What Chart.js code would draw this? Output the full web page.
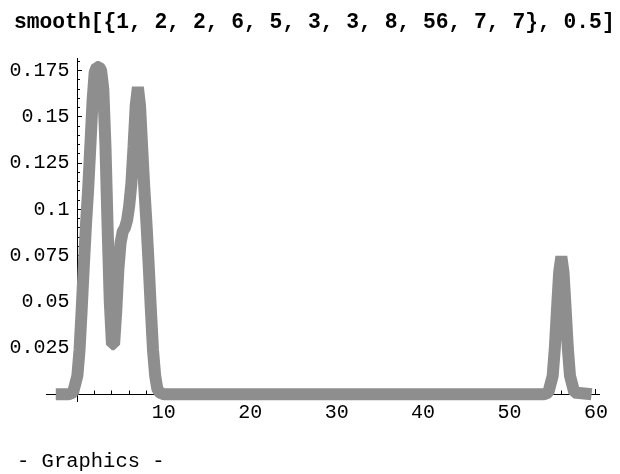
<!DOCTYPE html>
<html>
<head>
<meta charset="utf-8">
<script src="https://cdn.jsdelivr.net/npm/chart.js@4.4.1/dist/chart.umd.min.js"></script>
<style>
  html, body { margin: 0; padding: 0; background: #fff; }
  #wrap { position: relative; width: 620px; height: 474px; overflow: hidden; }
  #chart { position: absolute; left: 0; top: 0; }
  .caption { position: absolute; font-family: "Liberation Mono", "DejaVu Sans Mono", monospace; color: #000; white-space: pre; line-height: 1; }
  #title { left: 14px; top: 12px; font-size: 21.3px; font-weight: bold; }
  #footer { left: 17px; top: 452px; font-size: 20.5px; }
</style>
</head>
<body>
<div id="wrap">
  <canvas id="chart" width="620" height="474"></canvas>
  <div id="title" class="caption">smooth[{1, 2, 2, 6, 5, 3, 3, 8, 56, 7, 7}, 0.5]</div>
  <div id="footer" class="caption">- Graphics -</div>
</div>
<script>
// curve (x position, density)
const xValues = [-2.5, -1, -0.5, 0, 0.25, 0.5, 0.75, 1, 1.25, 1.5, 1.75, 2, 2.25, 2.5, 2.75, 3, 3.25, 3.5, 3.75, 4,
  4.25, 4.5, 4.75, 5, 5.25, 5.5, 5.75, 6, 6.25, 6.5, 6.75, 7, 7.25, 7.5, 7.75, 8, 8.25, 8.5, 8.75, 9, 9.25, 9.5,
  10, 20, 30, 40, 50, 54, 54.5, 55, 55.25, 55.5, 55.75, 56, 56.25, 56.5, 56.75, 57, 57.5, 59.5];
const yValues = [0, 0, 0.001, 0.010, 0.024, 0.046, 0.070, 0.092, 0.111, 0.134, 0.158, 0.174, 0.177, 0.177, 0.175, 0.165, 0.134, 0.090, 0.050, 0.027,
  0.027, 0.045, 0.068, 0.082, 0.088, 0.090, 0.094, 0.102, 0.114, 0.134, 0.156, 0.166, 0.156, 0.133, 0.111, 0.092, 0.070, 0.046, 0.024, 0.010, 0.003, 0.001,
  0, 0, 0, 0, 0, 0, 0.001, 0.010, 0.025, 0.046, 0.066, 0.0745, 0.066, 0.046, 0.025, 0.010, 0.001, 0];

const xMajorTicks = [10, 20, 30, 40, 50, 60];
const xMajorLabels = ["10", "20", "30", "40", "50", "60"];
const xMinorTicks = [2, 4, 6, 8, 12, 14, 16, 18, 22, 24, 26, 28, 32, 34, 36, 38, 42, 44, 46, 48, 52, 54, 56, 58];

const yMajorTicks = [0.025, 0.05, 0.075, 0.1, 0.125, 0.15, 0.175];
const yMajorLabels = ["0.025", "0.05", "0.075", "0.1", "0.125", "0.15", "0.175"];
const yMinorTicks = [0.005, 0.01, 0.015, 0.02, 0.03, 0.035, 0.04, 0.045, 0.055, 0.06, 0.065, 0.07,
  0.08, 0.085, 0.09, 0.095, 0.105, 0.11, 0.115, 0.12, 0.13, 0.135, 0.14, 0.145, 0.155, 0.16, 0.165, 0.17, 0.18];

const X_MIN = -3.55, X_MAX = 60.4;
const Y_MIN = -0.004, Y_MAX = 0.1818;
const LABEL_RIGHT = 69.5; // right edge of the y labels

const tickFont = { family: "'Liberation Mono', 'DejaVu Sans Mono', monospace", size: 20 };

function fixedTicks(values) {
  return (scale) => { scale.ticks = values.map((v) => ({ value: v })); };
}

function labelFor(majors, labels) {
  return (value) => {
    const i = majors.findIndex((m) => Math.abs(m - value) < 1e-9);
    return i >= 0 ? labels[i] : "";
  };
}

const noWidth = (scale) => { scale.width = 0; };
const noHeight = (scale) => { scale.height = 0; };

// mirrored labels right-aligned at LABEL_RIGHT: x = right + padding + widest
const placeYLabels = (scale) => {
  scale.width = 0;
  const widest = scale._getLabelSizes().widest.width;
  scale.options.ticks.padding = LABEL_RIGHT - 46.7 - widest;
};

const points = xValues.map((x, i) => ({ x, y: yValues[i] }));

new Chart(document.getElementById("chart"), {
  type: "line",
  data: {
    datasets: [{
      data: points,
      borderColor: "#8e8e8e",
      borderWidth: 12,
      borderJoinStyle: "bevel",
      borderCapStyle: "butt",
      pointRadius: 0,
      tension: 0,
      fill: false,
      clip: false,
    }],
  },
  options: {
    responsive: false,
    animation: false,
    events: [],
    layout: { padding: { left: 46.7, right: 14.8, top: 58, bottom: 72.3 } },
    plugins: { legend: { display: false }, tooltip: { enabled: false }, title: { display: false } },
    scales: {
      x: {
        type: "linear",
        min: X_MIN,
        max: X_MAX,
        position: { y: 0 },
        afterBuildTicks: fixedTicks(xMajorTicks),
        afterFit: noHeight,
        border: { display: true, color: "#000", width: 1 },
        grid: { drawOnChartArea: false, drawTicks: true, tickLength: -6, tickColor: "#000", tickWidth: 1 },
        ticks: { autoSkip: false, maxRotation: 0, padding: 12, color: "#000", font: tickFont,
          callback: labelFor(xMajorTicks, xMajorLabels) },
      },
      xMinor: {
        type: "linear",
        axis: "x",
        min: X_MIN,
        max: X_MAX,
        position: { y: 0 },
        afterBuildTicks: fixedTicks(xMinorTicks),
        afterFit: noHeight,
        border: { display: false },
        grid: { drawOnChartArea: false, drawTicks: true, tickLength: -3.5, tickColor: "#000", tickWidth: 1 },
        ticks: { display: false, autoSkip: false },
      },
      y: {
        type: "linear",
        min: Y_MIN,
        max: Y_MAX,
        position: { x: 0 },
        afterBuildTicks: fixedTicks(yMajorTicks),
        afterFit: noWidth,
        border: { display: true, color: "#000", width: 1 },
        grid: { drawOnChartArea: false, drawTicks: true, tickLength: -5, tickColor: "#000", tickWidth: 1 },
        ticks: { display: false, autoSkip: false },
      },
      yMinor: {
        type: "linear",
        axis: "y",
        min: Y_MIN,
        max: Y_MAX,
        position: { x: 0 },
        afterBuildTicks: fixedTicks(yMinorTicks),
        afterFit: noWidth,
        border: { display: false },
        grid: { drawOnChartArea: false, drawTicks: true, tickLength: -3, tickColor: "#000", tickWidth: 1 },
        ticks: { display: false, autoSkip: false },
      },
      yLabels: {
        type: "linear",
        axis: "y",
        min: Y_MIN,
        max: Y_MAX,
        position: "left",
        afterBuildTicks: fixedTicks(yMajorTicks),
        afterFit: placeYLabels,
        border: { display: false },
        grid: { display: false, drawTicks: false },
        ticks: { autoSkip: false, mirror: true, crossAlign: "far", padding: 0, color: "#000", font: tickFont,
          callback: labelFor(yMajorTicks, yMajorLabels) },
      },
    },
  },
});
</script>
</body>
</html>
